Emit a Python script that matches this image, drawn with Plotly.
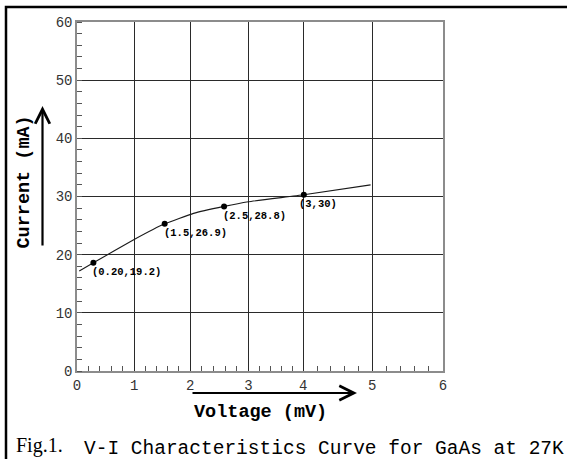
import plotly.graph_objects as go

# ---------------- data ----------------
tick_labels = ["0", "1", "2", "3", "4", "5", "6"]
# the original drawing has an uneven voltage scale beyond 4 mV
tick_positions = [0, 1.01, 2.0, 3.03, 4.0, 5.22, 6.47]

point_voltage = [0.29, 1.55, 2.60, 4.01]
point_current = [18.6, 25.3, 28.3, 30.3]
point_labels = ["(0.20,19.2)", "(1.5,26.9)", "(2.5,28.8)", "(3,30)"]

curve_voltage = [0.04, 0.29, 1.01, 1.55, 2.06, 2.60, 3.03, 4.01, 5.19]
curve_current = [17.2, 18.6, 22.6, 25.3, 27.1, 28.3, 29.1, 30.3, 32.0]

current_ticks = [0, 10, 20, 30, 40, 50, 60]

# ---------------- layout helpers ----------------
W, H = 567, 459
ML, MR, MT, MB = 77, 124, 22, 88
PW, PH = W - ML - MR, H - MT - MB


def px(x, y):
    """pixel position -> paper coordinates"""
    return (x - ML) / PW, (H - MB - y) / PH


minor_x = []
for a, b in zip(tick_positions[:-1], tick_positions[1:]):
    minor_x += [a + (b - a) * k / 5 for k in range(1, 5)]

MONO = "Liberation Mono"
GRID = "#2a2a2a"
AXLINE = "#8c8c8c"

fig = go.Figure()
fig.add_trace(go.Scatter(
    x=curve_voltage, y=curve_current, mode="lines",
    line=dict(color="#1a1a1a", width=1.1, shape="spline", smoothing=0.4),
    hoverinfo="skip", showlegend=False))
fig.add_trace(go.Scatter(
    x=point_voltage, y=point_current, mode="markers",
    marker=dict(color="black", size=6), showlegend=False))

for v, c, t in zip(point_voltage, point_current, point_labels):
    fig.add_annotation(x=v, y=c, text=t, showarrow=False,
                       xanchor="left", yanchor="middle",
                       xshift=-7 if len(t) <= 6 else -3, yshift=-9.5,
                       font=dict(family=MONO, size=10.5, color="black", weight="bold"))

fig.update_xaxes(
    range=[0, tick_positions[-1]], tickmode="array",
    tickvals=tick_positions, ticktext=tick_labels,
    showgrid=True, gridcolor=GRID, gridwidth=1,
    showline=True, linecolor=AXLINE, linewidth=1.5, mirror=True,
    zeroline=False, ticks="",
    minor=dict(tickmode="array", tickvals=minor_x, ticks="inside",
               ticklen=5, tickcolor="#555", tickwidth=1, showgrid=False),
    tickfont=dict(family=MONO, size=14, color="#333"),
    fixedrange=True)
fig.update_yaxes(
    range=[0, 60], tickmode="array", tickvals=current_ticks,
    showgrid=True, gridcolor=GRID, gridwidth=1,
    showline=True, linecolor=AXLINE, linewidth=1.5, mirror=True,
    zeroline=False, ticks="", ticklabelstandoff=0,
    minor=dict(dtick=2, tick0=0, ticks="inside", ticklen=5,
               tickcolor="#555", tickwidth=1, showgrid=False),
    tickfont=dict(family=MONO, size=14, color="#333"),
    fixedrange=True)

# axis titles with arrows
x0, y0 = px(260, 412)
fig.add_annotation(xref="paper", yref="paper", x=x0, y=y0, text="<b>Voltage (mV)</b>",
                   showarrow=False, xanchor="center", yanchor="middle",
                   font=dict(family=MONO, size=18.5, color="black"))
hx, hy = px(357, 393)
fig.add_annotation(xref="paper", yref="paper", x=hx, y=hy, text="",
                   showarrow=True, ax=-166, ay=0, arrowhead=5, arrowsize=1.3,
                   arrowwidth=2.2, arrowcolor="black")

x1, y1 = px(23.5, 182)
fig.add_annotation(xref="paper", yref="paper", x=x1, y=y1, text="<b>Current (mA)</b>",
                   showarrow=False, textangle=-90, xanchor="center", yanchor="middle",
                   font=dict(family=MONO, size=18.5, color="black"))
vx, vy = px(42.5, 106)
fig.add_annotation(xref="paper", yref="paper", x=vx, y=vy, text="",
                   showarrow=True, ax=0, ay=141, arrowhead=5, arrowsize=1.3,
                   arrowwidth=2.2, arrowcolor="black")

# caption
cx, cy = px(14, 445)
fig.add_annotation(xref="paper", yref="paper", x=cx, y=cy, text="Fig.1.",
                   showarrow=False, xanchor="left", yanchor="middle",
                   font=dict(family="Liberation Serif", size=20, color="black"))
tx, ty = px(82, 449)
fig.add_annotation(xref="paper", yref="paper", x=tx, y=ty,
                   text="V-I Characteristics Curve for GaAs at 27K",
                   showarrow=False, xanchor="left", yanchor="middle",
                   font=dict(family=MONO, size=19.5, color="black"))

# frame around the figure
bx0, by0 = px(6, 7)
bx1, by1 = px(575, 470)
fig.add_shape(type="rect", xref="paper", yref="paper",
              x0=bx0, y0=by1, x1=bx1, y1=by0,
              line=dict(color="black", width=2.5), fillcolor="rgba(0,0,0,0)")

fig.update_layout(
    width=W, height=H,
    margin=dict(l=ML, r=MR, t=MT, b=MB, pad=0),
    paper_bgcolor="white", plot_bgcolor="white",
    showlegend=False)

fig.write_html("out.html",
               config={"displayModeBar": False},
               post_script="document.body.style.margin='0';document.body.style.overflow='hidden';")
